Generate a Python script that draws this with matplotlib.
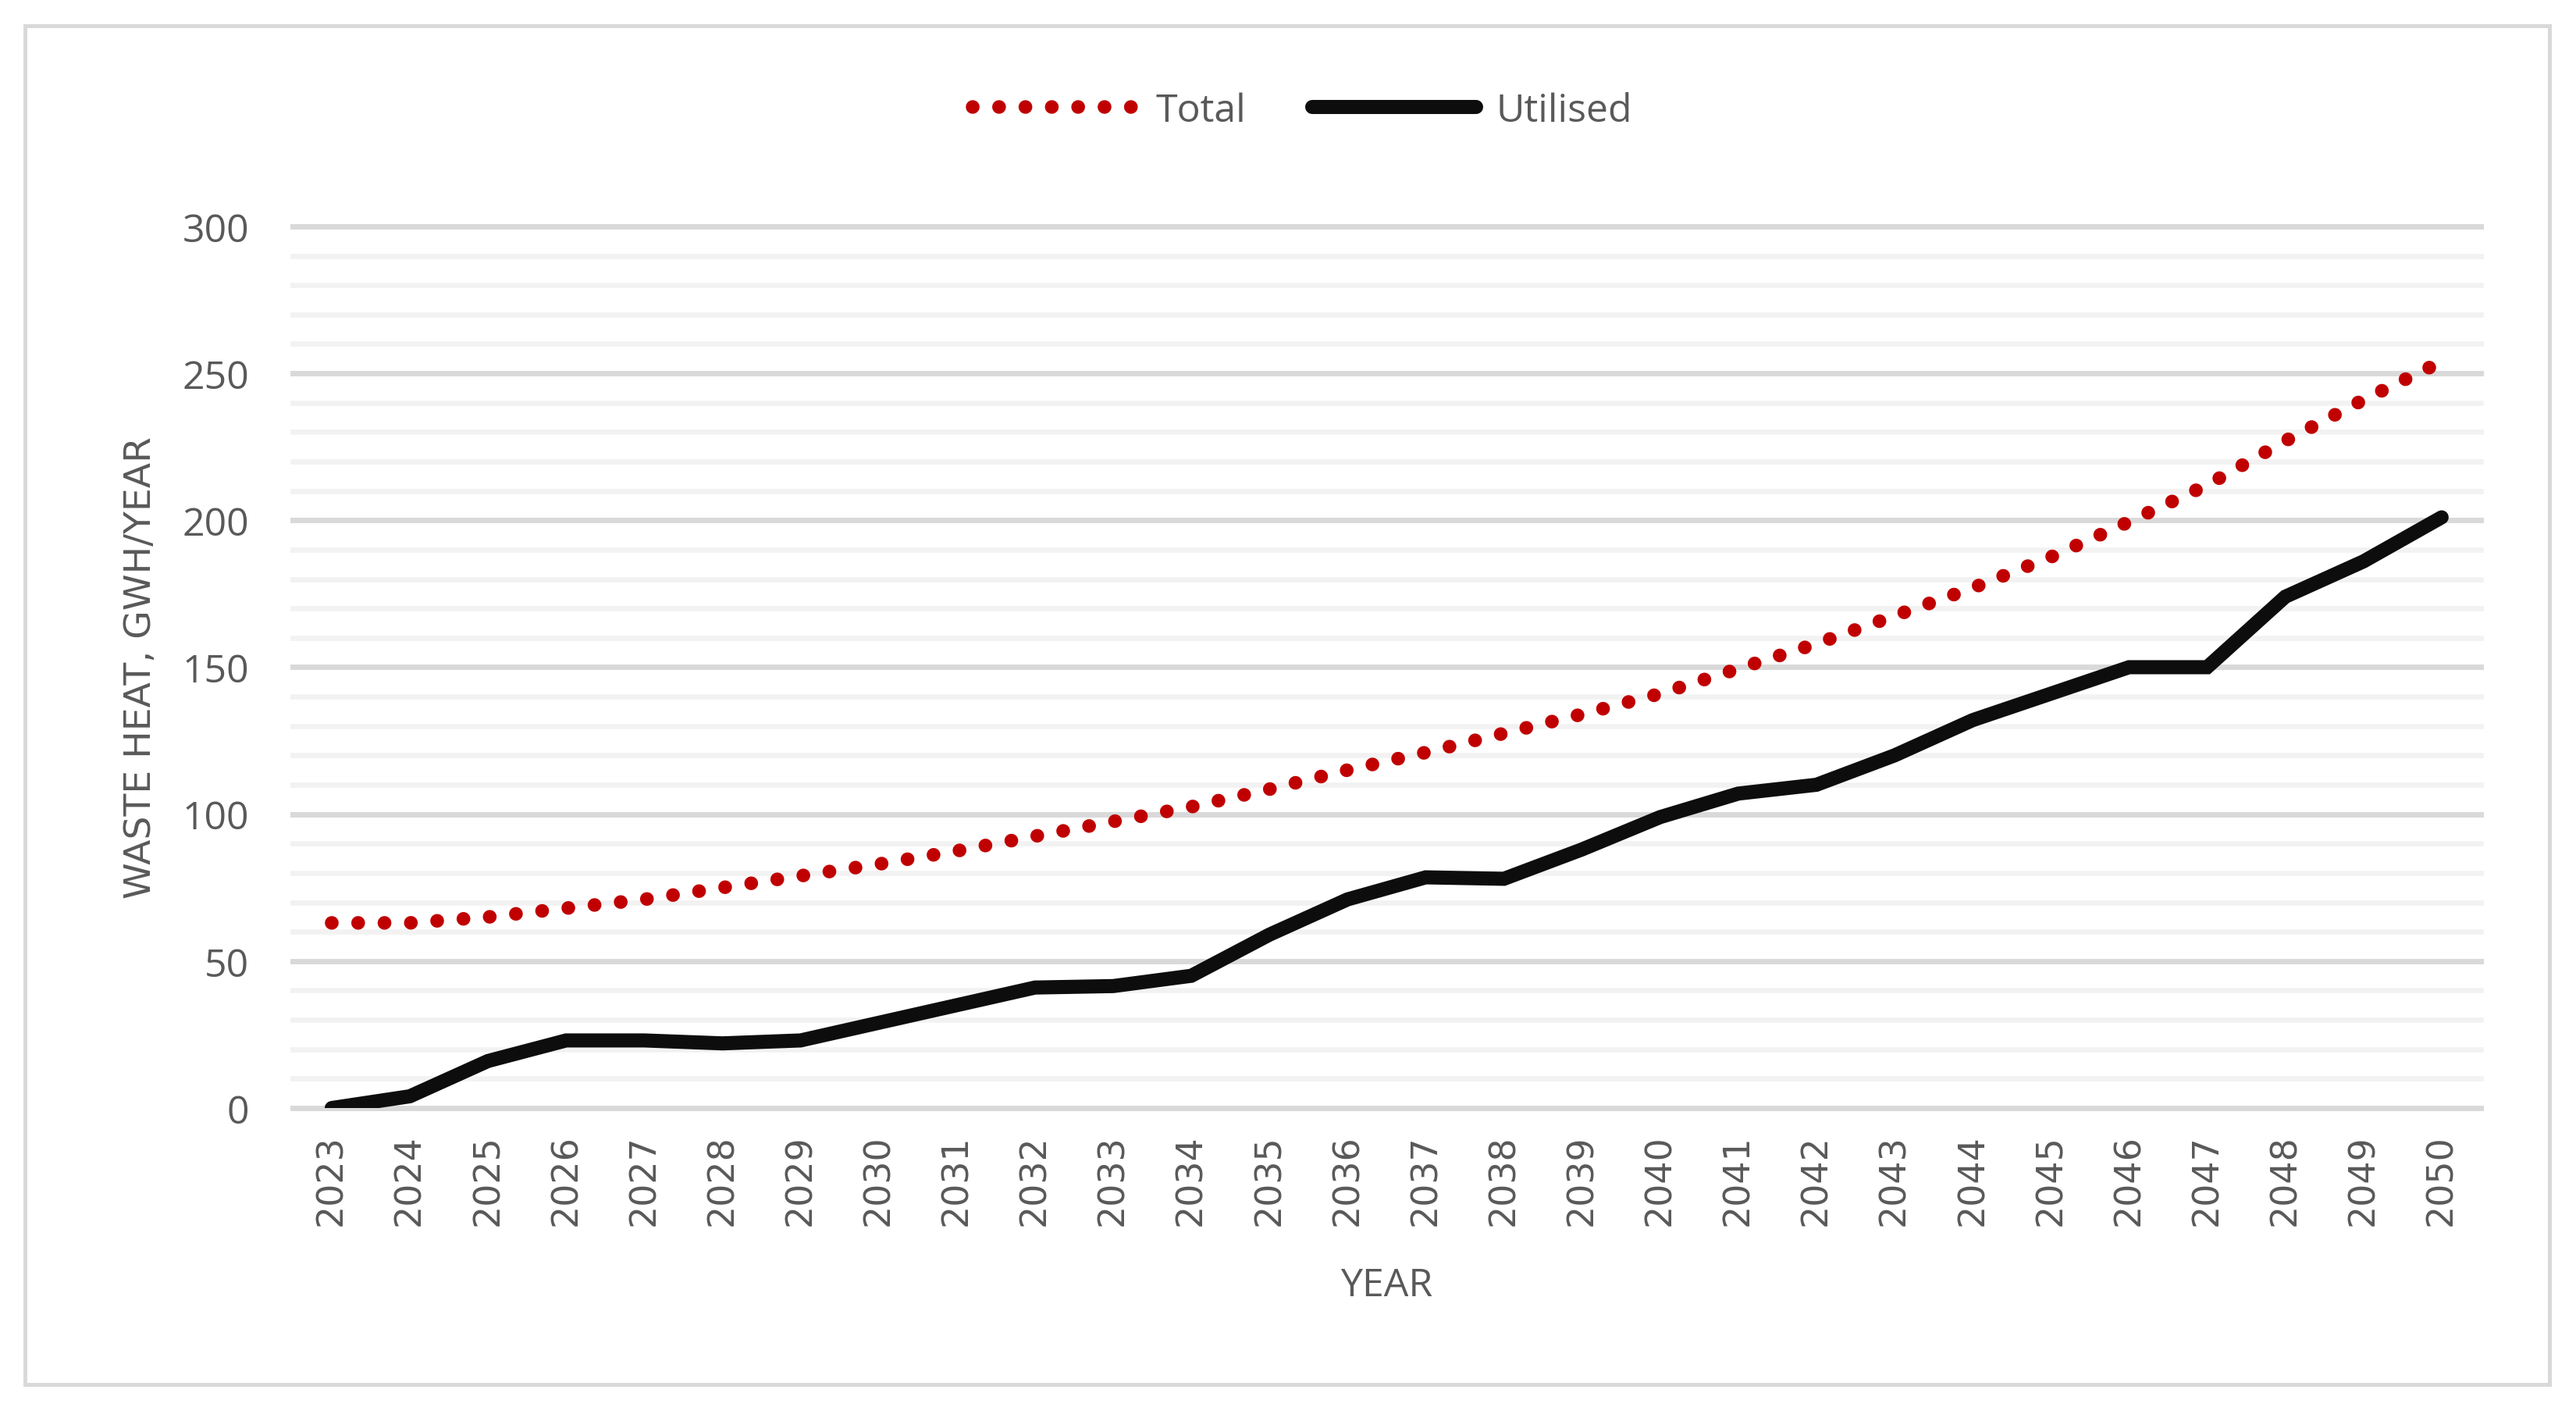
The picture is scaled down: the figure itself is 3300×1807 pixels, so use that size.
import matplotlib.pyplot as plt
from matplotlib.patches import Rectangle
from matplotlib.ticker import MultipleLocator

# Data
years = list(range(2023, 2051))
total = [63, 63, 65, 68, 71, 75, 79, 83, 87.5, 92.5, 97.5, 102.5, 108.5, 115,
         121, 127.5, 134, 141, 149.5, 158, 167.5, 177, 187.5, 199.5, 212, 227,
         241, 254]
utilised = [0, 4, 16, 23, 23, 22, 23, 29, 35, 41, 41.5, 45, 59, 71, 78.5, 78,
            88, 99, 107, 110, 120, 132, 141, 150, 150, 174, 186, 201]

text_col = '#595959'

fig = plt.figure(figsize=(16.5, 9.04), dpi=200)
ax = fig.add_axes([0.1136, 0.2146, 0.8494, 0.6245])

ax.plot(years, total, color='#C00000', lw=6.3, ls=(0, (0.01, 1.92)),
        dash_capstyle='round', label='Total', zorder=3)
ax.plot(years, utilised, color='#0D0D0D', lw=6.5, solid_capstyle='round',
        solid_joinstyle='miter', label='Utilised', zorder=4)

ax.set_xlim(2022.5, 2050.5)
ax.set_ylim(0, 300)
ax.set_xticks(years)
ax.set_xticklabels([str(y) for y in years], rotation=90, family='DejaVu Sans',
                   fontsize=16.5, color=text_col)
ax.yaxis.set_major_locator(MultipleLocator(50))
ax.yaxis.set_minor_locator(MultipleLocator(10))
ax.tick_params(axis='y', which='both', length=0, pad=20, labelsize=18,
               labelcolor=text_col, labelfontfamily='Open Sans')
ax.tick_params(axis='x', length=0, pad=12)

# gridlines
ax.grid(axis='y', which='major', color='#D9D9D9', lw=2.5)
ax.grid(axis='y', which='minor', color='#F2F2F2', lw=2.4)
ax.set_axisbelow(True)
for tick in ax.yaxis.get_major_ticks() + ax.yaxis.get_minor_ticks():
    tick.gridline.set_clip_on(False)
for s in ax.spines.values():
    s.set_visible(False)

ax.set_xlabel('YEAR', family='Open Sans', fontsize=18, color=text_col,
              labelpad=19)
ax.set_ylabel('WASTE HEAT, GWH/YEAR', family='DejaVu Sans', fontsize=17,
              color=text_col, labelpad=11)

leg = ax.legend(loc='center', ncol=2, frameon=False,
                bbox_to_anchor=(0.5055, 1 - 143 / 1808),
                bbox_transform=fig.transFigure,
                prop={'family': 'Open Sans', 'size': 18}, handlelength=4.2,
                columnspacing=1.7, handletextpad=0.5)
for t in leg.get_texts():
    t.set_color(text_col)

# outer border
fig.patches.append(Rectangle((32 / 3300, 34 / 1808), 3234 / 3300, 1740 / 1808,
                             transform=fig.transFigure, fill=False,
                             edgecolor='#D9D9D9', lw=1.8))

fig.savefig('out.png', dpi=200, facecolor='white')
